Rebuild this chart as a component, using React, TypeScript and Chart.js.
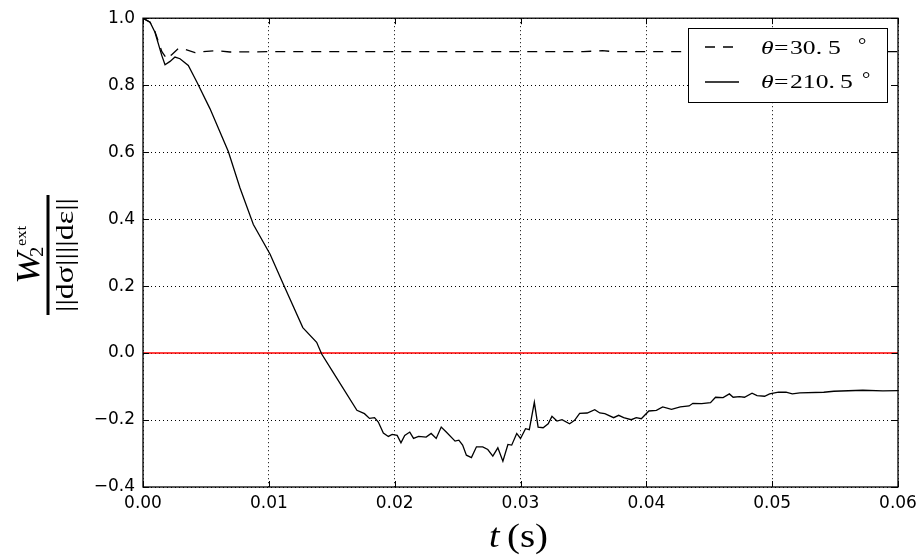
import { useEffect, useRef } from "react";
import { Chart, registerables } from "chart.js";
Chart.register(...registerables);

// theta = 210.5 deg (solid)
const tSolid = [
  0, 0.00056, 0.00095, 0.00149, 0.00175, 0.00215, 0.00254, 0.00294, 0.0036, 0.00427,
  0.00532, 0.00678, 0.00771, 0.00877, 0.0101, 0.0111, 0.0127, 0.0138, 0.0142, 0.0151,
  0.017, 0.0176, 0.018, 0.0184, 0.0187, 0.0191, 0.0195, 0.0198, 0.0202, 0.0205,
  0.0208, 0.0212, 0.0215, 0.0219, 0.0225, 0.0229, 0.0233, 0.0237, 0.0241, 0.0248,
  0.0251, 0.0254, 0.0257, 0.0261, 0.0265, 0.027, 0.0274, 0.0278, 0.0282, 0.0286,
  0.029, 0.0293, 0.0297, 0.03, 0.0304, 0.0307, 0.0311, 0.0314, 0.0318, 0.0322,
  0.0325, 0.0329, 0.0333, 0.0339, 0.0343, 0.0347, 0.0353, 0.0359, 0.0363, 0.0367,
  0.0374, 0.0378, 0.0382, 0.0388, 0.0392, 0.0396, 0.0402, 0.0408, 0.0413, 0.042,
  0.0427, 0.0434, 0.0437, 0.0444, 0.0451, 0.0455, 0.0461, 0.0466, 0.0469, 0.0474,
  0.0478, 0.0484, 0.0488, 0.0494, 0.0498, 0.0505, 0.0511, 0.0516, 0.0522, 0.0541,
  0.0549, 0.0572, 0.0588, 0.06,
];
const wSolid = [
  1.0, 0.988, 0.958, 0.889, 0.861, 0.871, 0.884, 0.879, 0.859, 0.81,
  0.73, 0.602, 0.493, 0.384, 0.295, 0.21, 0.076, 0.032, -0.003, -0.057,
  -0.171, -0.181, -0.195, -0.193, -0.206, -0.239, -0.249, -0.243, -0.246, -0.268,
  -0.246, -0.236, -0.255, -0.249, -0.251, -0.24, -0.255, -0.221, -0.236, -0.263,
  -0.26, -0.275, -0.305, -0.312, -0.28, -0.28, -0.288, -0.308, -0.283, -0.323,
  -0.273, -0.275, -0.24, -0.255, -0.226, -0.229, -0.147, -0.221, -0.223, -0.211,
  -0.189, -0.203, -0.199, -0.211, -0.201, -0.18, -0.179, -0.169, -0.179, -0.181,
  -0.193, -0.186, -0.193, -0.199, -0.193, -0.196, -0.173, -0.171, -0.161, -0.168,
  -0.161, -0.158, -0.15, -0.151, -0.148, -0.132, -0.133, -0.122, -0.132, -0.13,
  -0.132, -0.12, -0.127, -0.129, -0.122, -0.117, -0.117, -0.122, -0.119, -0.117,
  -0.114, -0.111, -0.113, -0.112,
];

// theta = 30.5 deg (dashed)
const tDashed = [
  0, 0.00056, 0.00095, 0.0015, 0.0019, 0.00228, 0.0028, 0.00334, 0.00413, 0.00506,
  0.00586, 0.00691, 0.01, 0.015, 0.02, 0.025, 0.03, 0.035, 0.0365, 0.0375, 0.04,
  0.045, 0.05, 0.055, 0.06,
];
const wDashed = [
  1.0, 0.988, 0.96, 0.9, 0.878, 0.891, 0.909, 0.907, 0.897, 0.901,
  0.903, 0.899, 0.9, 0.9, 0.9, 0.9, 0.9, 0.9, 0.903, 0.9, 0.9,
  0.9, 0.9, 0.9, 0.9,
];

const zeroT = [0, 0.06];
const zeroW = [0, 0];

const legendValues = ["30.", "210."];

const SERIF = '"Liberation Serif", "DejaVu Serif", serif';

const fmtY = (v: number) => {
  const r = Math.round(v * 10) / 10;
  if (Math.abs(r) < 1e-9) return "0.0";
  return r < 0 ? "\u2212" + Math.abs(r).toFixed(1) : r.toFixed(1);
};

const drawT = (
  ctx: CanvasRenderingContext2D,
  s: string,
  x: number,
  y: number,
  font: string,
  sx = 1,
  align: CanvasTextAlign = "left"
) => {
  ctx.save();
  ctx.font = font;
  ctx.translate(x, y);
  ctx.scale(sx, 1);
  ctx.textAlign = align;
  ctx.textBaseline = "alphabetic";
  ctx.fillText(s, 0, 0);
  ctx.restore();
};

const decor = {
  id: "decor",
  afterDraw(chart: any) {
    const { ctx, chartArea: a, scales } = chart;
    ctx.save();
    ctx.strokeStyle = "#000";
    ctx.fillStyle = "#000";
    // frame
    ctx.lineWidth = 1.3;
    ctx.setLineDash([]);
    ctx.strokeRect(a.left, a.top, a.right - a.left, a.bottom - a.top);
    // inner ticks on all four sides
    ctx.lineWidth = 1;
    const tl = 6;
    const line = (x1: number, y1: number, x2: number, y2: number) => {
      ctx.beginPath();
      ctx.moveTo(x1, y1);
      ctx.lineTo(x2, y2);
      ctx.stroke();
    };
    for (const t of scales.x.ticks) {
      const px = Math.round(scales.x.getPixelForValue(t.value)) + 0.5;
      line(px, a.bottom, px, a.bottom - tl);
      line(px, a.top, px, a.top + tl);
    }
    for (const t of scales.y.ticks) {
      const py = Math.round(scales.y.getPixelForValue(t.value)) + 0.5;
      line(a.left, py, a.left + tl, py);
      line(a.right, py, a.right - tl, py);
    }

    // legend
    ctx.fillStyle = "#fff";
    ctx.fillRect(688.5, 28.5, 199, 74);
    ctx.strokeStyle = "#000";
    ctx.lineWidth = 1;
    ctx.strokeRect(688.5, 28.5, 199, 74);
    ctx.lineWidth = 1.3;
    ctx.setLineDash([10, 8]);
    line(705, 47, 733, 47);
    ctx.setLineDash([]);
    line(705, 82, 739, 82);
    ctx.fillStyle = "#000";
    const rows = [
      { y: 54, num: legendValues[0], fiveX: 828, degX: 858 },
      { y: 88, num: legendValues[1], fiveX: 840, degX: 862 },
    ];
    const sxL = 1.35;
    for (const r of rows) {
      drawT(ctx, "\u03b8", 761, r.y, `italic 19px ${SERIF}`, sxL);
      drawT(ctx, "=", 774, r.y, `19px ${SERIF}`, sxL);
      drawT(ctx, r.num, 790, r.y, `19px ${SERIF}`, sxL);
      drawT(ctx, "5", r.fiveX, r.y, `19px ${SERIF}`, sxL);
      drawT(ctx, "\u00b0", r.degX, r.y - 3, `19px ${SERIF}`, 1.1);
    }

    // x title
    drawT(ctx, "t", 489, 547, `italic 33px ${SERIF}`, 1.15);
    drawT(ctx, "(s)", 507, 547, `33px ${SERIF}`, 1.18);

    // y title (rotated fraction)
    ctx.translate(48, 255);
    ctx.rotate(-Math.PI / 2);
    ctx.fillRect(-60, -1.5, 120, 3);
    drawT(ctx, "W", -29, -9, `italic 33px ${SERIF}`, 1.15);
    drawT(ctx, "2", -2, -5, `18px ${SERIF}`, 1.15);
    drawT(ctx, "ext", 9, -22, `15px ${SERIF}`, 1.1);
    const den = "||d\u03c3||||d\u03b5||";
    ctx.font = `26px ${SERIF}`;
    const w0 = ctx.measureText(den).width;
    drawT(ctx, den, 0, 25, `26px ${SERIF}`, 114 / w0, "center");
    ctx.restore();
  },
};

export default function App() {
  const ref = useRef<HTMLCanvasElement>(null);
  useEffect(() => {
    const canvas = ref.current!;
    const chart = new Chart(canvas, {
      type: "line",
      data: {
        datasets: [
          {
            data: tSolid.map((t, i) => ({ x: t, y: wSolid[i] })),
            borderColor: "#000",
            borderWidth: 1.3,
            pointRadius: 0,
            fill: false,
            tension: 0,
          },
          {
            data: tDashed.map((t, i) => ({ x: t, y: wDashed[i] })),
            borderColor: "#000",
            borderWidth: 1.3,
            borderDash: [10, 8],
            pointRadius: 0,
            fill: false,
            tension: 0,
          },
          {
            data: zeroT.map((t, i) => ({ x: t, y: zeroW[i] })),
            borderColor: "#ff0000",
            borderWidth: 1.6,
            pointRadius: 0,
            fill: false,
          },
        ],
      },
      options: {
        animation: false,
        responsive: false,
        devicePixelRatio: 1,
        layout: { padding: { top: 16, right: 25, bottom: 0, left: 0 } },
        plugins: { legend: { display: false }, tooltip: { enabled: false } },
        scales: {
          x: {
            type: "linear",
            min: 0,
            max: 0.06,
            afterFit: (s: any) => {
              s.height = 70;
            },
            ticks: {
              stepSize: 0.01,
              color: "#000",
              padding: 6,
              maxRotation: 0,
              font: { family: "DejaVu Sans", size: 17 },
              callback: (v: any) => Number(v).toFixed(2),
            },
            grid: { color: "#000", lineWidth: 1, drawTicks: false },
            border: { display: false, dash: [1, 3] },
          },
          y: {
            type: "linear",
            min: -0.4,
            max: 1.0,
            z: 1,
            afterFit: (s: any) => {
              s.width = 143;
            },
            ticks: {
              stepSize: 0.2,
              color: "#000",
              padding: 8,
              font: { family: "DejaVu Sans", size: 17 },
              callback: (v: any) => fmtY(Number(v)),
            },
            grid: { color: "#000", lineWidth: 1, drawTicks: false },
            border: { display: false, dash: [1, 3] },
          },
        },
      },
      plugins: [decor],
    });
    return () => chart.destroy();
  }, []);
  return (
    <div style={{ position: "absolute", left: 0, top: 0, width: 923, height: 557, background: "#fff" }}>
      <canvas ref={ref} width={923} height={557} />
    </div>
  );
}
